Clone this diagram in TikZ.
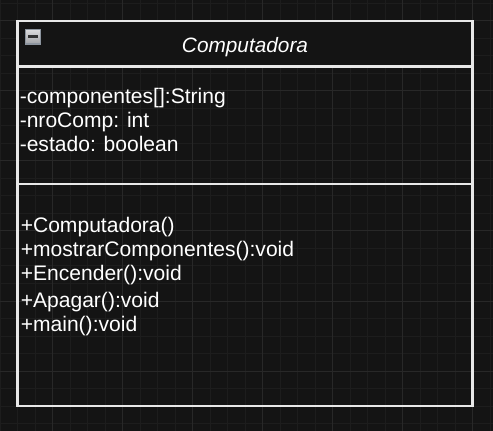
\documentclass[tikz,border=0pt]{standalone}
\usepackage{fontspec}
\setmainfont{Liberation Sans}
\definecolor{canvas}{RGB}{20,20,20}
\definecolor{gridminor}{RGB}{29,29,29}
\definecolor{gridmajor}{RGB}{40,40,40}
\definecolor{boxline}{RGB}{232,232,232}
\definecolor{iconframe}{RGB}{140,148,158}
\tikzset{
  minorline/.style={draw=gridminor,line width=0.75},
  majorline/.style={draw=gridmajor,line width=0.75},
  classline/.style={draw=boxline,line width=1.6},
  umltext/.style={anchor=base west,inner sep=0pt,text=white,font=\fontsize{15.8}{18}\selectfont}
}
\begin{document}
\begin{tikzpicture}[x=0.75pt,y=0.75pt,yscale=-1,xscale=1]
\useasboundingbox (0,0) rectangle (493,431);

%Shape: Background
\fill [canvas] (0,0) rectangle (493,431);
%Grid lines
\foreach \gx in {0,17.5,...,490} \draw [minorline] (\gx,0) -- (\gx,431);
\foreach \gy in {3.5,21,...,430} \draw [minorline] (0,\gy) -- (493,\gy);
\foreach \gx in {52.5,122.5,...,480} \draw [majorline] (\gx,0) -- (\gx,431);
\foreach \gy in {21,91,...,430} \draw [majorline] (0,\gy) -- (493,\gy);

%Shape: Rectangle (header)
\fill [canvas] (17.5,21) rectangle (472.5,66.5);
%Shape: Rectangle (class)
\draw [classline] (17.5,21) rectangle (472.5,406);
%Straight Lines
\draw [classline] (17.5,66.5) -- (472.5,66.5);
%Straight Lines
\draw [classline] (17.5,184) -- (472.5,184);

%Shape: Collapse icon
\draw [iconframe, line width=1, top color={rgb,255:red,220;green,220;blue,222}, bottom color={rgb,255:red,160;green,162;blue,166}] (25.5,29.5) rectangle (40.5,44);
\fill [black!80] (28,35.5) rectangle (38,38);

% Text Node
\node [umltext, anchor=base, font=\fontsize{15.6}{18}\selectfont\itshape] (title) at (245,52.7) {Computadora};
% Text Node
\node [umltext] (attrA) at (19.5,104) {-componentes[]:String};
% Text Node
\node [umltext] (attrB) at (19.5,127.5) {-nroComp: int};
% Text Node
\node [umltext] (attrC) at (19.5,151.5) {-estado: boolean};
% Text Node
\node [umltext] (opA) at (20.5,232.5) {+Computadora()};
% Text Node
\node [umltext] (opB) at (20.5,257) {+mostrarComponentes():void};
% Text Node
\node [umltext] (opC) at (20.5,280.5) {+Encender():void};
% Text Node
\node [umltext] (opD) at (20.5,307.5) {+Apagar():void};
% Text Node
\node [umltext] (opE) at (20.5,331.5) {+main():void};

\end{tikzpicture}
\end{document}
